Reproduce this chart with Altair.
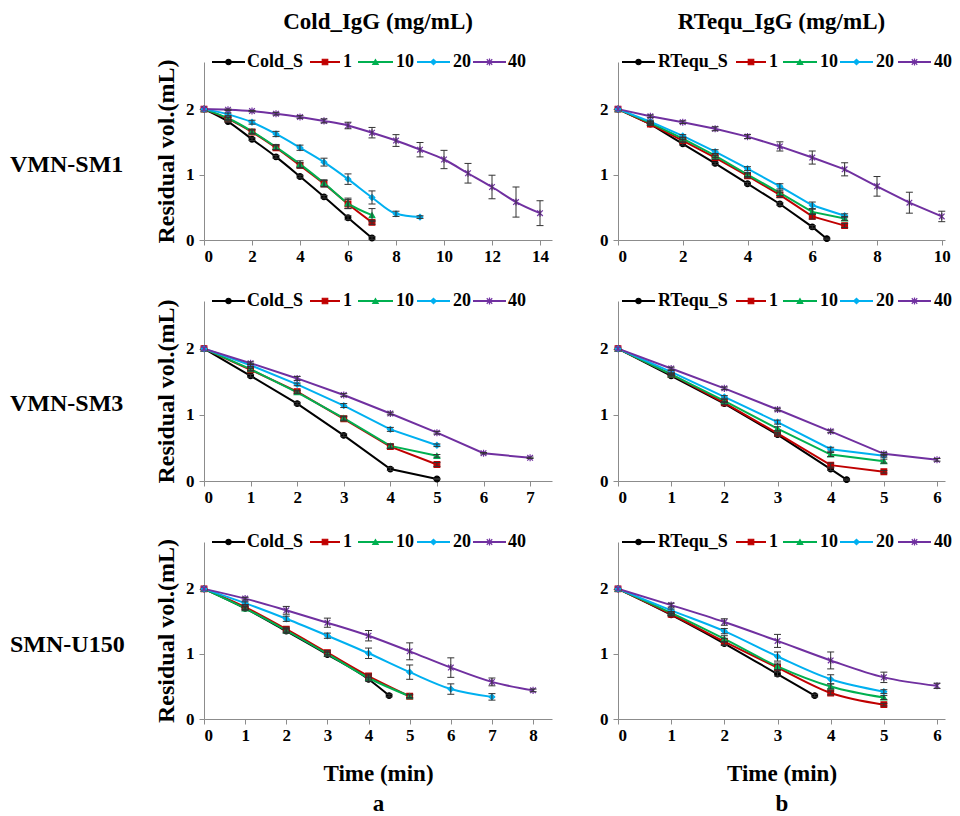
import altair as alt
import pandas as pd

FONT = "Liberation Serif"
KEYS = ["S", "1", "10", "20", "40"]
COLORS = ["#000000", "#C00000", "#00B050", "#00B0F0", "#7030A0"]
ASTER = "M-1,-1L1,1M-1,1L1,-1M0,-1.25L0,1.25"
SHAPES = ["circle", "square", "triangle-up", "diamond", ASTER]

COLUMN_TITLES = ["Cold_IgG (mg/mL)", "RTequ_IgG (mg/mL)"]
ROW_LABELS = ["VMN-SM1", "VMN-SM3", "SMN-U150"]
SAMPLE_NAMES = ["Cold_S", "RTequ_S"]
CONC_LABELS = ["1", "10", "20", "40"]
Y_TICKS = [0, 1, 2]

# ---------------- Cold_IgG, VMN-SM1 ----------------
COLD_SM1_T = {"S": [0, 1, 2, 3, 4, 5, 6, 7], "1": [0, 1, 2, 3, 4, 5, 6, 7],
              "10": [0, 1, 2, 3, 4, 5, 6, 7], "20": [0, 1, 2, 3, 4, 5, 6, 7, 8, 9],
              "40": [0, 1, 2, 3, 4, 5, 6, 7, 8, 9, 10, 11, 12, 13, 14]}
COLD_SM1_V = {"S": [2, 1.81, 1.54, 1.27, 0.97, 0.66, 0.34, 0.03],
              "1": [2, 1.85, 1.65, 1.41, 1.14, 0.86, 0.55, 0.27],
              "10": [2, 1.86, 1.66, 1.42, 1.16, 0.87, 0.56, 0.38],
              "20": [2, 1.92, 1.80, 1.62, 1.41, 1.19, 0.93, 0.65, 0.40, 0.35],
              "40": [2, 1.99, 1.97, 1.93, 1.88, 1.82, 1.75, 1.64, 1.52, 1.38, 1.23, 1.02, 0.81, 0.58, 0.41]}
COLD_SM1_E = {"S": [0, 0.01, 0.02, 0.02, 0.02, 0.02, 0.03, 0.02],
              "1": [0, 0.02, 0.03, 0.03, 0.04, 0.05, 0.07, 0.03],
              "10": [0, 0.02, 0.03, 0.04, 0.05, 0.05, 0.08, 0.10],
              "20": [0, 0.02, 0.03, 0.04, 0.04, 0.06, 0.08, 0.10, 0.04, 0.02],
              "40": [0, 0.01, 0.01, 0.02, 0.02, 0.03, 0.05, 0.08, 0.09, 0.11, 0.14, 0.15, 0.18, 0.23, 0.19]}

# ---------------- RTequ_IgG, VMN-SM1 ----------------
RT_SM1_T = {"S": [0, 1, 2, 3, 4, 5, 6, 6.45], "1": [0, 1, 2, 3, 4, 5, 6, 7],
            "10": [0, 1, 2, 3, 4, 5, 6, 7], "20": [0, 1, 2, 3, 4, 5, 6, 7],
            "40": [0, 1, 2, 3, 4, 5, 6, 7, 8, 9, 10]}
RT_SM1_V = {"S": [2, 1.77, 1.47, 1.17, 0.86, 0.55, 0.20, 0.02],
            "1": [2, 1.77, 1.52, 1.26, 0.98, 0.69, 0.36, 0.22],
            "10": [2, 1.79, 1.55, 1.29, 1.00, 0.72, 0.43, 0.33],
            "20": [2, 1.81, 1.59, 1.35, 1.09, 0.82, 0.53, 0.37],
            "40": [2, 1.89, 1.80, 1.70, 1.58, 1.43, 1.26, 1.08, 0.82, 0.57, 0.36]}
RT_SM1_E = {"S": [0, 0.01, 0.02, 0.02, 0.02, 0.02, 0.02, 0.01],
            "1": [0, 0.02, 0.02, 0.03, 0.03, 0.04, 0.04, 0.03],
            "10": [0, 0.02, 0.02, 0.03, 0.03, 0.04, 0.04, 0.03],
            "20": [0, 0.02, 0.02, 0.03, 0.03, 0.04, 0.05, 0.03],
            "40": [0, 0.02, 0.02, 0.03, 0.03, 0.07, 0.10, 0.10, 0.15, 0.16, 0.08]}

# ---------------- Cold_IgG, VMN-SM3 ----------------
COLD_SM3_T = {"S": [0, 1, 2, 3, 4, 5], "1": [0, 1, 2, 3, 4, 5], "10": [0, 1, 2, 3, 4, 5],
              "20": [0, 1, 2, 3, 4, 5], "40": [0, 1, 2, 3, 4, 5, 6, 7]}
COLD_SM3_V = {"S": [2, 1.59, 1.17, 0.69, 0.18, 0.03],
              "1": [2, 1.68, 1.35, 0.94, 0.52, 0.25],
              "10": [2, 1.69, 1.34, 0.95, 0.53, 0.38],
              "20": [2, 1.75, 1.46, 1.14, 0.78, 0.54],
              "40": [2, 1.78, 1.55, 1.30, 1.02, 0.73, 0.42, 0.35]}
COLD_SM3_E = {"S": [0, 0.02, 0.02, 0.02, 0.02, 0.01],
              "1": [0, 0.02, 0.02, 0.03, 0.03, 0.03],
              "10": [0, 0.02, 0.02, 0.03, 0.03, 0.02],
              "20": [0, 0.02, 0.02, 0.03, 0.03, 0.02],
              "40": [0, 0.02, 0.03, 0.02, 0.02, 0.02, 0.01, 0.01]}

# ---------------- RTequ_IgG, VMN-SM3 ----------------
RT_SM3_T = {"S": [0, 1, 2, 3, 4, 4.3], "1": [0, 1, 2, 3, 4, 5], "10": [0, 1, 2, 3, 4, 5],
            "20": [0, 1, 2, 3, 4, 5], "40": [0, 1, 2, 3, 4, 5, 6]}
RT_SM3_V = {"S": [2, 1.59, 1.17, 0.70, 0.18, 0.02],
            "1": [2, 1.61, 1.18, 0.72, 0.24, 0.14],
            "10": [2, 1.61, 1.21, 0.79, 0.40, 0.30],
            "20": [2, 1.65, 1.27, 0.89, 0.48, 0.38],
            "40": [2, 1.70, 1.40, 1.08, 0.75, 0.41, 0.32]}
RT_SM3_E = {"S": [0, 0.02, 0.02, 0.02, 0.02, 0.01],
            "1": [0, 0.02, 0.02, 0.02, 0.03, 0.02],
            "10": [0, 0.02, 0.02, 0.03, 0.03, 0.03],
            "20": [0, 0.02, 0.02, 0.03, 0.03, 0.02],
            "40": [0, 0.02, 0.02, 0.02, 0.02, 0.02, 0.02]}

# ---------------- Cold_IgG, SMN-U150 ----------------
COLD_U150_T = {"S": [0, 1, 2, 3, 4, 4.5], "1": [0, 1, 2, 3, 4, 5], "10": [0, 1, 2, 3, 4, 5],
               "20": [0, 1, 2, 3, 4, 5, 6, 7], "40": [0, 1, 2, 3, 4, 5, 6, 7, 8]}
COLD_U150_V = {"S": [2, 1.70, 1.35, 0.99, 0.61, 0.36],
               "1": [2, 1.72, 1.38, 1.02, 0.66, 0.35],
               "10": [2, 1.70, 1.36, 1.00, 0.63, 0.35],
               "20": [2, 1.78, 1.54, 1.28, 1.01, 0.72, 0.46, 0.34],
               "40": [2, 1.85, 1.67, 1.48, 1.28, 1.04, 0.79, 0.57, 0.44]}
COLD_U150_E = {"S": [0, 0.02, 0.03, 0.03, 0.03, 0.02],
               "1": [0, 0.03, 0.03, 0.03, 0.03, 0.02],
               "10": [0, 0.03, 0.03, 0.03, 0.03, 0.03],
               "20": [0, 0.02, 0.04, 0.04, 0.08, 0.11, 0.08, 0.05],
               "40": [0, 0.02, 0.06, 0.07, 0.08, 0.13, 0.15, 0.06, 0.02]}

# ---------------- RTequ_IgG, SMN-U150 ----------------
RT_U150_T = {"S": [0, 1, 2, 3, 3.7], "1": [0, 1, 2, 3, 4, 5], "10": [0, 1, 2, 3, 4, 5],
             "20": [0, 1, 2, 3, 4, 5], "40": [0, 1, 2, 3, 4, 5, 6]}
RT_U150_V = {"S": [2, 1.60, 1.16, 0.69, 0.36],
             "1": [2, 1.61, 1.19, 0.79, 0.40, 0.22],
             "10": [2, 1.63, 1.23, 0.81, 0.50, 0.33],
             "20": [2, 1.67, 1.35, 0.96, 0.61, 0.42],
             "40": [2, 1.75, 1.49, 1.20, 0.90, 0.64, 0.51]}
RT_U150_E = {"S": [0, 0.02, 0.03, 0.03, 0.02],
             "1": [0, 0.02, 0.05, 0.05, 0.03, 0.02],
             "10": [0, 0.02, 0.05, 0.05, 0.04, 0.03],
             "20": [0, 0.02, 0.04, 0.07, 0.07, 0.03],
             "40": [0, 0.03, 0.05, 0.10, 0.13, 0.08, 0.04]}

X_TICKS = {
    "cold_sm1": [0, 2, 4, 6, 8, 10, 12, 14],
    "rt_sm1": [0, 2, 4, 6, 8, 10],
    "cold_sm3": [0, 1, 2, 3, 4, 5, 6, 7],
    "rt_sm3": [0, 1, 2, 3, 4, 5, 6],
    "cold_u150": [0, 1, 2, 3, 4, 5, 6, 7, 8],
    "rt_u150": [0, 1, 2, 3, 4, 5, 6],
}

# ---------------- layout / style ----------------
LW, RW = 348, 327
HEIGHTS = [178, 180, 177]
Y_MAX = 2.72
LEG_L = {"lines": [(8, 41), (106, 136), (154, 189), (213, 246), (269, 302)],
         "text": [43, 139, 192, 249, 304]}
LEG_R = {"lines": [(4, 37), (118, 148), (165, 199), (222, 255), (280, 313)],
         "text": [40, 151, 202, 258, 316]}

color_scale = alt.Scale(domain=KEYS, range=COLORS)
shape_scale = alt.Scale(domain=KEYS, range=SHAPES)


def make_df(T, V, E):
    rows = []
    for k in KEYS:
        for t, v, e in zip(T[k], V[k], E[k]):
            rows.append({"key": k, "t": t, "v": v, "e": e, "lo": v - e, "hi": v + e})
    return pd.DataFrame(rows)


def panel(T, V, E, ticks, xmax, width, height, side, sample_name, interp,
          row_label=None, title=None, xtitle=None):
    df = make_df(T, V, E)
    xscale = alt.Scale(domain=[0, xmax], nice=False, zero=False)
    yscale = alt.Scale(domain=[0, Y_MAX], nice=False)
    xaxis = alt.Axis(values=ticks, format="d", title=xtitle if xtitle else None,
                     titleFontSize=23, titleLineHeight=30, titlePadding=19)
    yaxis = alt.Axis(values=Y_TICKS, format="d",
                     title="Residual vol.(mL)" if side == "L" else None,
                     titleFontSize=24, titlePadding=7)
    base = alt.Chart(df)
    X = alt.X("t:Q", scale=xscale, axis=xaxis)
    Y = alt.Y("v:Q", scale=yscale, axis=yaxis)
    col = alt.Color("key:N", scale=color_scale, legend=None)
    lines = base.mark_line(strokeWidth=2, interpolate=interp).encode(
        x=X, y=Y, color=col, detail="key:N")
    pts = base.mark_point(filled=True, size=32, strokeWidth=1.2, opacity=1).encode(
        x="t:Q", y="v:Q", color=col,
        stroke=alt.Stroke("key:N", scale=color_scale, legend=None),
        shape=alt.Shape("key:N", scale=shape_scale, legend=None))
    edf = df[df["e"] > 0]
    eb = alt.Chart(edf)
    erule = eb.mark_rule(color="#333333", strokeWidth=1).encode(
        x="t:Q", y="lo:Q", y2="hi:Q")
    cap_lo = eb.mark_point(shape="stroke", size=49, color="#333333", strokeWidth=1,
                           opacity=1).encode(x="t:Q", y="lo:Q")
    cap_hi = eb.mark_point(shape="stroke", size=49, color="#333333", strokeWidth=1,
                           opacity=1).encode(x="t:Q", y="hi:Q")

    leg = LEG_L if side == "L" else LEG_R
    labels = [sample_name] + CONC_LABELS
    ldf = pd.DataFrame({
        "key": KEYS, "label": labels,
        "x0": [a for a, b in leg["lines"]], "x1": [b for a, b in leg["lines"]],
        "xm": [(a + b) / 2 for a, b in leg["lines"]], "xt": leg["text"],
    })
    lb = alt.Chart(ldf)
    lrule = lb.mark_rule(strokeWidth=2).encode(
        x=alt.X("x0:Q", scale=None), x2="x1:Q", y=alt.value(0), color=col)
    lpt = lb.mark_point(filled=True, size=30, strokeWidth=1.2, opacity=1).encode(
        x=alt.X("xm:Q", scale=None), y=alt.value(0), color=col,
        stroke=alt.Stroke("key:N", scale=color_scale, legend=None),
        shape=alt.Shape("key:N", scale=shape_scale, legend=None))
    ltxt = lb.mark_text(align="left", baseline="middle", font=FONT, fontSize=18,
                        fontWeight="bold", color="black").encode(
        x=alt.X("xt:Q", scale=None), y=alt.value(0), text="label:N")

    layers = [lines, pts, erule, cap_lo, cap_hi, lrule, lpt, ltxt]
    if row_label:
        rl = alt.Chart(pd.DataFrame({"lab": [row_label]})).mark_text(
            align="left", baseline="middle", font=FONT, fontSize=24,
            fontWeight="bold", color="black").encode(
            x=alt.value(-194), y=alt.value(103), text="lab:N")
        layers.append(rl)
    ch = alt.layer(*layers).properties(width=width, height=height)
    if title:
        ch = ch.properties(title=alt.TitleParams(
            title, font=FONT, fontSize=23, fontWeight="bold", anchor="middle",
            frame="group", offset=19, color="black"))
    return ch


r1 = alt.hconcat(
    panel(COLD_SM1_T, COLD_SM1_V, COLD_SM1_E, X_TICKS["cold_sm1"], 14.5, LW, HEIGHTS[0],
          "L", SAMPLE_NAMES[0], "monotone", ROW_LABELS[0], COLUMN_TITLES[0]),
    panel(RT_SM1_T, RT_SM1_V, RT_SM1_E, X_TICKS["rt_sm1"], 10.1, RW, HEIGHTS[0],
          "R", SAMPLE_NAMES[1], "linear", None, COLUMN_TITLES[1]),
    spacing=47)
r2 = alt.hconcat(
    panel(COLD_SM3_T, COLD_SM3_V, COLD_SM3_E, X_TICKS["cold_sm3"], 7.47, LW, HEIGHTS[1],
          "L", SAMPLE_NAMES[0], "linear", ROW_LABELS[1]),
    panel(RT_SM3_T, RT_SM3_V, RT_SM3_E, X_TICKS["rt_sm3"], 6.15, RW, HEIGHTS[1],
          "R", SAMPLE_NAMES[1], "linear"),
    spacing=47)
r3 = alt.hconcat(
    panel(COLD_U150_T, COLD_U150_V, COLD_U150_E, X_TICKS["cold_u150"], 8.46, LW, HEIGHTS[2],
          "L", SAMPLE_NAMES[0], "monotone", ROW_LABELS[2], None, ["Time (min)", "a"]),
    panel(RT_U150_T, RT_U150_V, RT_U150_E, X_TICKS["rt_u150"], 6.15, RW, HEIGHTS[2],
          "R", SAMPLE_NAMES[1], "monotone", None, None, ["Time (min)", "b"]),
    spacing=47)

chart = alt.vconcat(r1, r2, r3, spacing=28).properties(
    padding={"left": 2, "top": 3, "right": 0, "bottom": 0}
).configure_view(stroke=None).configure_axis(
    grid=False, domainColor="#8c8c8c", tickColor="#8c8c8c", tickSize=5,
    labelFont=FONT, labelFontSize=17, labelFontWeight="bold", labelColor="black",
    labelPadding=3, titleFont=FONT, titleFontWeight="bold", titleColor="black",
).configure_axisY(labelPadding=5)

chart.save("out.html", embed_options={"renderer": "svg", "actions": False})
